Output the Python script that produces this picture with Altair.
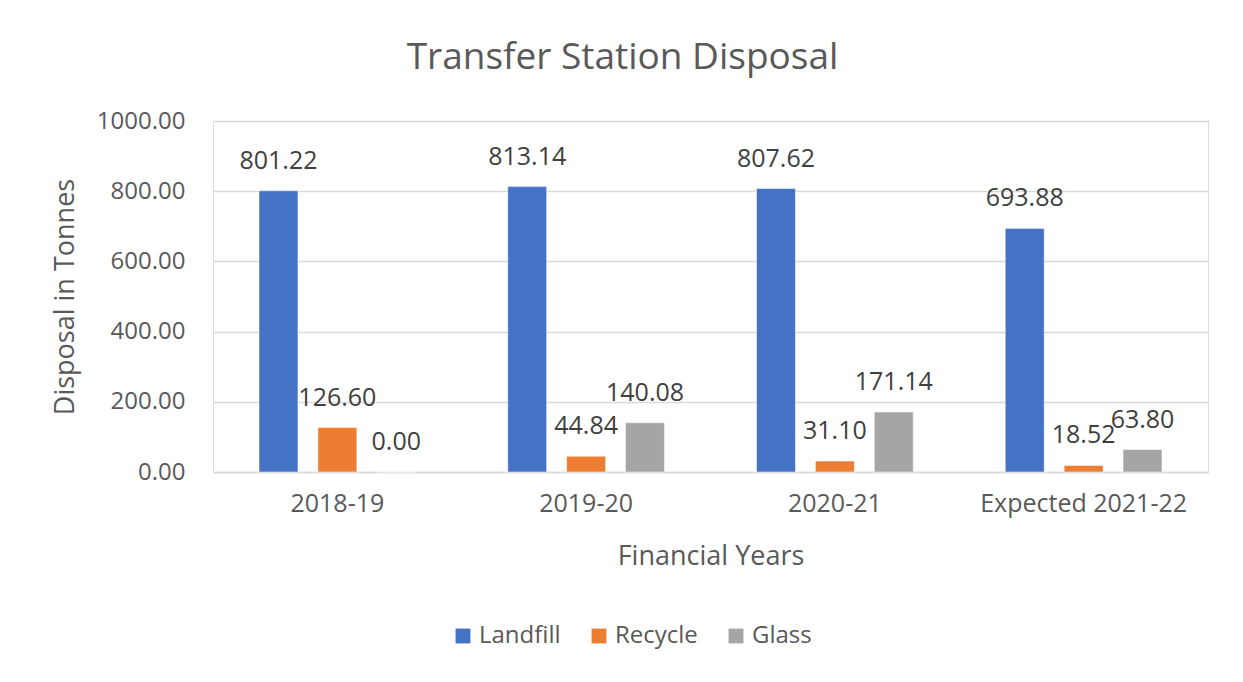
import altair as alt
import pandas as pd

years = ["2018-19", "2019-20", "2020-21", "Expected 2021-22"]
series = ["Landfill", "Recycle", "Glass"]
landfill = [801.22, 813.14, 807.62, 693.88]
recycle = [126.60, 44.84, 31.10, 18.52]
glass = [0.00, 140.08, 171.14, 63.80]
colors = ["#4472C4", "#ED7D31", "#A5A5A5"]
y_ticks = [0, 200, 400, 600, 800, 1000]

rows = []
for s, vals in zip(series, [landfill, recycle, glass]):
    for yr, v in zip(years, vals):
        rows.append({"Year": yr, "Series": s, "Value": v})
df = pd.DataFrame(rows)

FONT = "Open Sans"
W, H = 995, 351

x = alt.X("Year:N", sort=years, title="Financial Years",
          scale=alt.Scale(paddingInner=0.37, paddingOuter=0.185),
          axis=alt.Axis(labelAngle=0, labelFontSize=25, labelColor="#595959",
                        labelPadding=19, labelLimit=0, ticks=False, domainColor="#D9D9D9",
                        domainWidth=1.5, titleFontSize=27, titleColor="#595959",
                        titleFontWeight="normal", titleY=84, titleBaseline="middle",
                        labelFont=FONT, titleFont=FONT))
xo = alt.XOffset("Series:N", sort=series,
                 scale=alt.Scale(paddingInner=0.339, paddingOuter=0))
y = alt.Y("Value:Q", title="Disposal in Tonnes",
          scale=alt.Scale(domain=[0, 1000], nice=False),
          axis=alt.Axis(values=y_ticks, format=".2f", labelFontSize=24,
                        labelColor="#595959", labelPadding=28, ticks=False,
                        domain=False, gridColor="#D9D9D9", gridWidth=1.5,
                        titleFontSize=27, titleColor="#595959",
                        titleFontWeight="normal", titleX=-148, titleY=H / 2,
                        titleBaseline="middle", titleAlign="center",
                        labelFont=FONT, titleFont=FONT))
color = alt.Color("Series:N", sort=series,
                  scale=alt.Scale(domain=series, range=colors),
                  legend=alt.Legend(title=None, orient="none", direction="horizontal",
                                    legendX=238, legendY=503, symbolType="square",
                                    symbolSize=220, symbolStrokeWidth=0,
                                    labelFontSize=24, labelColor="#595959",
                                    labelFont=FONT, columnPadding=26,
                                    symbolOpacity=1))

bars = alt.Chart(df).mark_bar(stroke="white", strokeWidth=0.5).encode(
    x=x, xOffset=xo, y=y, color=color)

labels = alt.Chart(df).mark_text(fontSize=25, font=FONT, color="#404040",
                                 baseline="middle", dy=-30).encode(
    x=alt.X("Year:N", sort=years), xOffset=xo, y="Value:Q",
    text=alt.Text("Value:Q", format=".2f"))

chart = alt.layer(bars, labels).properties(
    width=W, height=H,
    title=alt.TitleParams("Transfer Station Disposal", fontSize=37, font=FONT,
                          color="#595959", fontWeight="normal", anchor="middle",
                          dx=-88, offset=32),
    autosize=alt.AutoSizeParams(type="none"),
    padding={"left": 205, "top": 113, "right": 27, "bottom": 202},
).configure_view(stroke=None).configure(background="white")

chart.save("out.html", embed_options={"renderer": "svg", "actions": False})
